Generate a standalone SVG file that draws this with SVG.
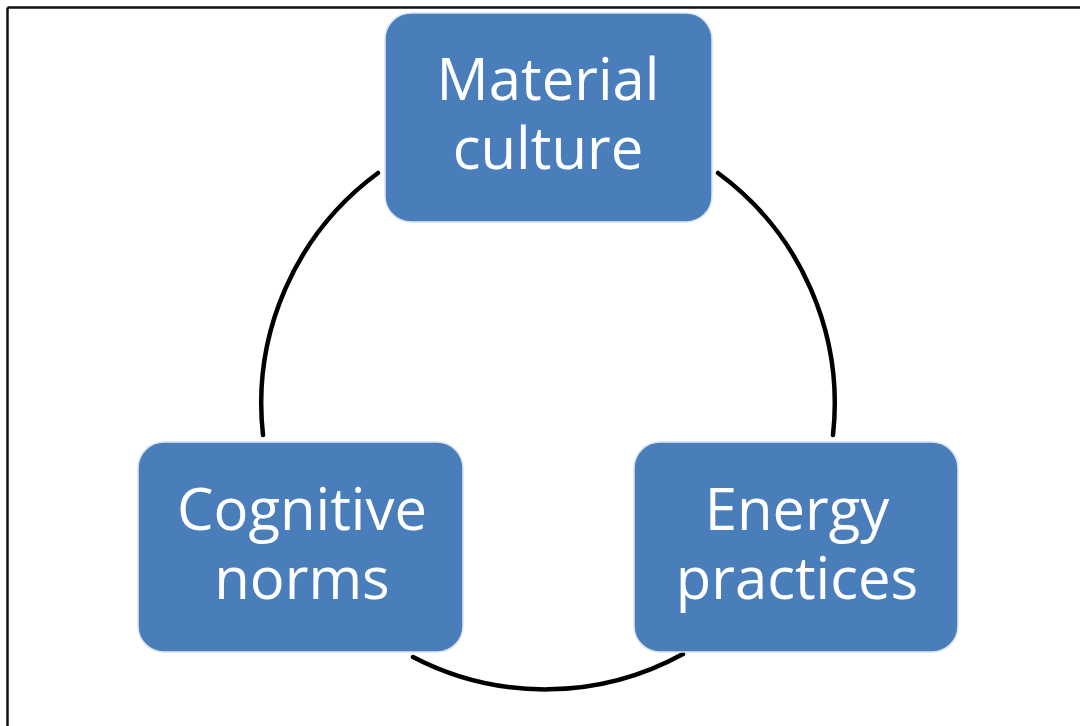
<svg xmlns="http://www.w3.org/2000/svg" width="1080" height="726" viewBox="0 0 1080 726">
  <style>
    .box { fill: #4A7EBB; stroke: #dbe5f1; stroke-width: 1.5; }
    .lbl { font-family: "Open Sans", "Liberation Sans", sans-serif; font-size: 58px; fill: #ffffff; text-anchor: middle; }
    .arc { fill: none; stroke: #000000; stroke-width: 4.5; stroke-linecap: round; }
  </style>
  <rect x="0" y="0" width="1080" height="726" fill="#ffffff"/>
  <g id="frame">
    <line x1="7.5" y1="7.5" x2="1080" y2="7.5" stroke="#111111" stroke-width="2.5"/>
    <line x1="7.5" y1="7.5" x2="7.5" y2="726" stroke="#111111" stroke-width="2.5"/>
  </g>
  <g id="connectors">
    <path class="arc" d="M 378 173 A 286 286 0 0 0 263 435"/>
    <path class="arc" d="M 718 173 A 286 286 0 0 1 833 435"/>
    <path class="arc" d="M 413 657 A 286 286 0 0 0 683 654"/>
  </g>
  <g id="material-culture">
    <rect class="box" x="385" y="13" width="327" height="209" rx="26"/>
    <text class="lbl" x="548" y="100">Material</text>
    <text class="lbl" x="548" y="169">culture</text>
  </g>
  <g id="cognitive-norms">
    <rect class="box" x="138" y="442" width="325" height="210" rx="26"/>
    <text class="lbl" x="302" y="530">Cognitive</text>
    <text class="lbl" x="302" y="599">norms</text>
  </g>
  <g id="energy-practices">
    <rect class="box" x="634" y="442" width="324" height="210" rx="26"/>
    <text class="lbl" x="797" y="530">Energy</text>
    <text class="lbl" x="797" y="599">practices</text>
  </g>
</svg>
